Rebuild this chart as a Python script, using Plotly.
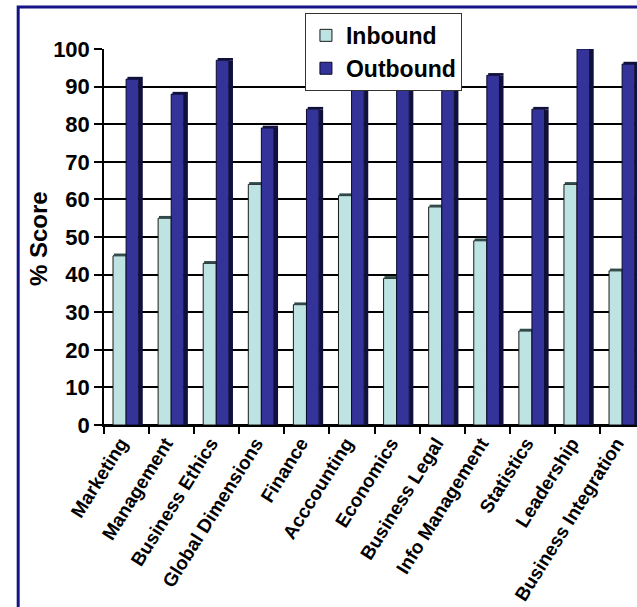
import plotly.graph_objects as go

# Course areas and average scores for the two student groups
categories = [
    "Marketing", "Management", "Business Ethics", "Global Dimensions",
    "Finance", "Acccounting", "Economics", "Business Legal",
    "Info Management", "Statistics", "Leadership", "Business Integration",
]
inbound = [45, 55, 43, 64, 32, 61, 39, 58, 49, 25, 64, 41]
outbound = [92, 88, 97, 79, 84, 89, 92, 92, 93, 84, 100, 96]
y_ticks = list(range(0, 101, 10))

INBOUND_FACE = "#BDE3E3"
INBOUND_TOP = "#2E4A4A"
OUTBOUND_FACE = "#333399"
OUTBOUND_SIDE = "#10103C"
FONT = "Liberation Sans, Arial, sans-serif"
CAP = 0.6  # thickness of the top faces, in axis units

fig = go.Figure()

# light front faces
fig.add_trace(go.Bar(
    x=categories, y=inbound, name="Inbound",
    offset=-0.30, width=0.29,
    marker=dict(color=INBOUND_FACE, line=dict(color="#1a1a1a", width=1)),
))
# top face of the light columns
fig.add_trace(go.Bar(
    x=categories, y=[CAP] * len(inbound), base=inbound,
    offset=-0.28, width=0.29, showlegend=False, hoverinfo="skip",
    marker=dict(color=INBOUND_TOP, line=dict(width=0)),
))
# dark front faces
fig.add_trace(go.Bar(
    x=categories, y=outbound, name="Outbound",
    offset=-0.01, width=0.28,
    marker=dict(color=OUTBOUND_FACE, line=dict(color="#0a0a2a", width=1)),
))
# shaded right-hand side of the dark columns
fig.add_trace(go.Bar(
    x=categories, y=outbound,
    offset=0.27, width=0.09, showlegend=False, hoverinfo="skip",
    marker=dict(color=OUTBOUND_SIDE, line=dict(width=0)),
))
# top face of the dark columns
fig.add_trace(go.Bar(
    x=categories, y=[CAP] * len(outbound), base=outbound,
    offset=0.02, width=0.34, showlegend=False, hoverinfo="skip",
    marker=dict(color=OUTBOUND_SIDE, line=dict(width=0)),
))

fig.update_layout(
    width=637, height=607,
    margin=dict(l=104, r=0, t=49, b=182, pad=0),
    paper_bgcolor="white", plot_bgcolor="white",
    barmode="overlay",
    font=dict(family=FONT, color="black"),
    legend=dict(
        x=0.377, y=1.096, xanchor="left", yanchor="top",
        bgcolor="white", bordercolor="#333333", borderwidth=1,
        font=dict(family=FONT, size=23, weight="bold", color="black"),
        itemwidth=30,
    ),
    xaxis=dict(
        type="category", range=[-0.5, 11.32],
        tickson="boundaries", ticks="outside", ticklen=7,
        tickcolor="black", tickwidth=1.5,
        showline=True, linecolor="black", linewidth=1.5,
        showgrid=False, tickangle=-58,
        ticklabelshift=-6, ticklabelstandoff=-2,
        tickfont=dict(family=FONT, size=19, weight="bold", color="black"),
    ),
    yaxis=dict(
        range=[0, 100], tickvals=y_ticks,
        ticks="outside", ticklen=8, tickcolor="black", tickwidth=1.5,
        showline=True, linecolor="black", linewidth=1.5,
        showgrid=True, gridcolor="black", gridwidth=1.5,
        zeroline=True, zerolinecolor="black", zerolinewidth=1.5,
        tickfont=dict(family=FONT, size=22, weight="bold", color="black"),
    ),
    annotations=[dict(
        text="% Score", textangle=-90, showarrow=False,
        xref="paper", yref="paper", x=-0.124, y=0.497,
        xanchor="center", yanchor="middle",
        font=dict(family=FONT, size=24, weight="bold", color="black"),
    )],
    shapes=[dict(
        type="rect", xref="paper", yref="paper",
        x0=-0.161, y0=-0.6, x1=1.2, y1=1.112,
        line=dict(color="#141485", width=3), fillcolor="rgba(0,0,0,0)",
        layer="above",
    )],
)

fig.write_html("out.html")
